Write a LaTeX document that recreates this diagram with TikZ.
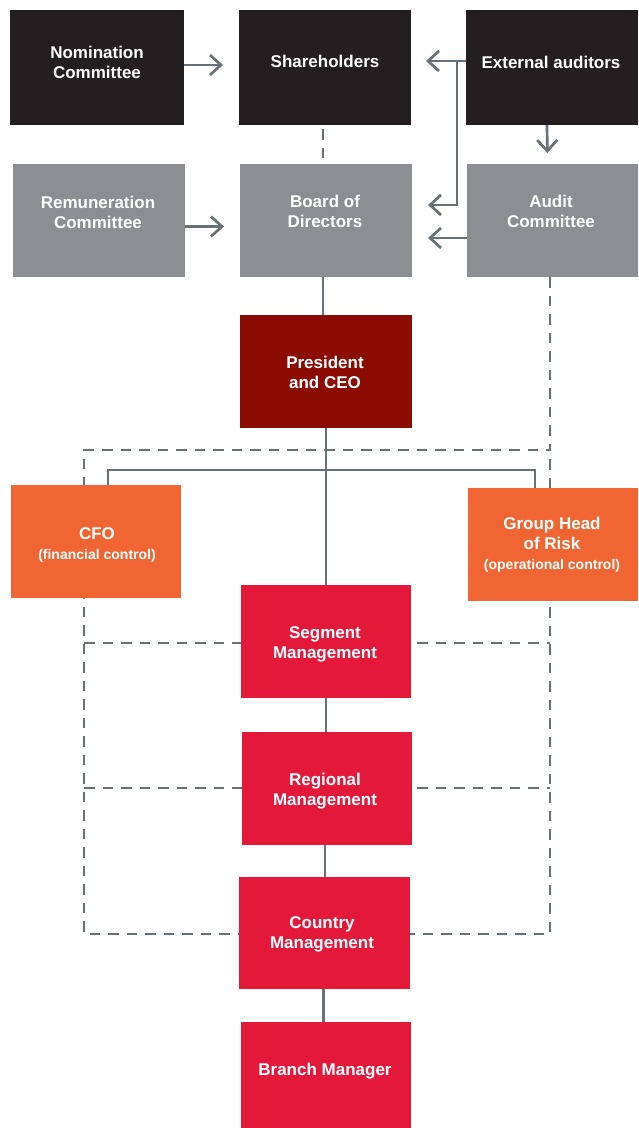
\documentclass[tikz,border=0pt]{standalone}
\usepackage{fontspec}
\setmainfont{Liberation Sans}
\usetikzlibrary{arrows.meta,backgrounds,calc}
\definecolor{blk}{HTML}{231F20}
\definecolor{gry}{HTML}{8D8E92}
\definecolor{drd}{HTML}{8A0C02}
\definecolor{org}{HTML}{F06532}
\definecolor{rd}{HTML}{E4193A}
\definecolor{ln}{HTML}{687177}
\tikzset{
  box/.style={draw=none, anchor=north west, inner sep=0pt, outer sep=0pt},
  txt/.style={text=white, font=\bfseries\fontsize{17}{20}\selectfont, align=center, inner sep=0pt},
  conn/.style={draw=ln, line width=2.7pt},
  arr/.style={conn, -{Straight Barb[length=11pt,width=20pt,line width=2.7pt]}},
  dsh/.style={draw=ln, line width=2.7pt, dash pattern=on 10.5pt off 8pt},
}
\newcommand{\sm}{\fontsize{14}{20}\selectfont}
\begin{document}
\begin{tikzpicture}[x=1pt,y=-1pt]
\useasboundingbox (0,0) rectangle (638,1128);
% boxes
\node[box, fill=blk, minimum width=174pt, minimum height=115pt] (nom) at (10,10) {};
\node[box, fill=blk, minimum width=172pt, minimum height=115pt] (sh) at (239,10) {};
\node[box, fill=blk, minimum width=172pt, minimum height=115pt] (ext) at (466,10) {};
\node[box, fill=gry, minimum width=172pt, minimum height=113pt] (rem) at (13,164) {};
\node[box, fill=gry, minimum width=172pt, minimum height=113pt] (bod) at (240,164) {};
\node[box, fill=gry, minimum width=171pt, minimum height=113pt] (aud) at (467,164) {};
\node[box, fill=drd, minimum width=172pt, minimum height=113pt] (pres) at (240,315) {};
\node[box, fill=org, minimum width=170pt, minimum height=113pt] (cfo) at (11,485) {};
\node[box, fill=org, minimum width=170pt, minimum height=113pt] (ghr) at (468,488) {};
\node[box, fill=rd, minimum width=170pt, minimum height=113pt] (seg) at (241,585) {};
\node[box, fill=rd, minimum width=170pt, minimum height=113pt] (reg) at (242,732) {};
\node[box, fill=rd, minimum width=171pt, minimum height=112pt] (cty) at (239,877) {};
\node[box, fill=rd, minimum width=170pt, minimum height=106pt] (br) at (241,1022) {};
% texts
\node[txt] (nom-t) at (97,62) {Nomination\\Committee};
\node[txt] (sh-t) at (325,61) {Shareholders};
\node[txt] (ext-t) at (551,62) {External auditors};
\node[txt] (rem-t) at (98,212.5) {Remuneration\\Committee};
\node[txt] (bod-t) at (325,211.5) {Board of\\Directors};
\node[txt] (aud-t) at (551,211.5) {Audit\\Committee};
\node[txt] (pres-t) at (325,372) {President\\and CEO};
\node[txt] (cfo-t) at (97,545) {CFO\\{\sm (financial control)}};
\node[txt] (ghr-t) at (552,545) {Group Head\\of Risk\\{\sm (operational control)}};
\node[txt] (seg-t) at (325,644) {Segment\\Management};
\node[txt] (reg-t) at (325,791) {Regional\\Management};
\node[txt] (cty-t) at (322,934.5) {Country\\Management};
\node[txt] (br-t) at (325,1071) {Branch Manager};
% connectors
\begin{scope}[on background layer]
\coordinate (tl) at (84,450);
\coordinate (tr) at (550,450);
\coordinate (bl) at (84,934);
\coordinate (br2) at (550,934);
\coordinate (m1l) at (84,643);
\coordinate (m1r) at (550,643);
\coordinate (m2l) at (84,788);
\coordinate (m2r) at (550,788);
\draw[dsh] ([xshift=-2.5pt]aud.south) -- (tr) -- (tl) -- (bl) -- (br2) -- (tr);
\draw[dsh] (m1l) -- (m1r);
\draw[dsh] (m2l) -- (m2r);
\draw[dsh, shorten <=4pt, shorten >=4pt] ([xshift=-2pt]sh.south) -- ([xshift=-3pt]bod.north);
\draw[arr, shorten >=16pt] ([yshift=2.5pt]nom.east) -- ([yshift=2.5pt]sh.west);
\draw[arr, shorten >=16pt] ([yshift=-6pt]rem.east) -- ([yshift=-6pt]bod.west);
\draw[arr, shorten >=15pt] ([yshift=6.5pt]ext.west) -- ([yshift=6.5pt]sh.east);
\coordinate (jx) at (457,61);
\draw[arr, shorten >=16pt] (jx) |- ([yshift=15.5pt]bod.east);
\draw[arr, shorten >=16pt] ([yshift=-17.5pt]aud.west) -- ([yshift=-17.5pt]bod.east);
\draw[arr, shorten >=11pt] ([xshift=-5pt]ext.south) -- ([xshift=-5pt]aud.north);
\draw[conn] ([xshift=-3pt]bod.south) -- ([xshift=-3pt]bod.south |- pres.north);
\draw[conn] (pres.south) -- (pres.south |- seg.north);
\coordinate (jn) at (325,470);
\draw[conn] ([xshift=12pt]cfo.north) |- (jn) -| ([xshift=-18pt]ghr.north);
\draw[conn] (seg.south) -- (seg.south |- reg.north);
\draw[conn] ([xshift=-2pt]reg.south) -- ([xshift=-2pt]reg.south |- cty.north);
\draw[conn] ([xshift=-1pt]cty.south) -- ([xshift=-1pt]cty.south |- br.north);
\end{scope}
\end{tikzpicture}
\end{document}
